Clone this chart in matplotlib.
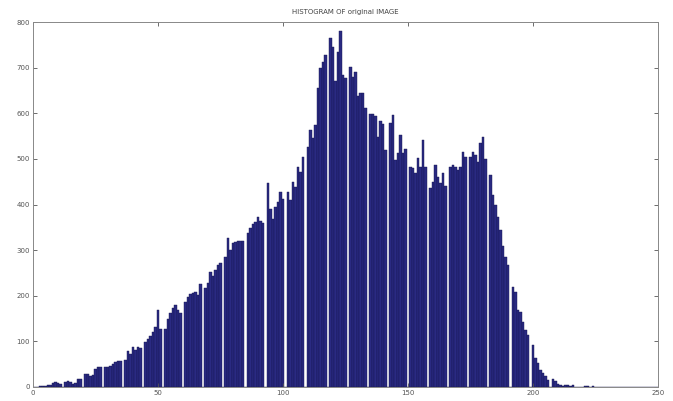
import matplotlib.pyplot as plt
import numpy as np

# histogram counts, one per grey level 0..255
counts_0_59 = [0, 0, 1, 2, 2, 3, 5, 4, 8, 10, 9, 6,
               0, 11, 12, 10, 7, 9, 17, 18,
               0, 29, 28, 25, 27, 39, 44, 43,
               0, 44, 44, 45, 50, 54, 56, 58,
               0, 59, 78, 72, 87, 80, 88, 86,
               0, 98, 106, 112, 121, 132, 169, 128,
               0, 127, 148, 162, 173, 180, 169, 162]
counts_60_119 = [0, 187, 198, 203, 205, 209, 202, 226,
                 0, 216, 227, 251, 243, 257, 268, 271,
                 0, 286, 326, 300, 315, 317, 319, 319, 320,
                 0, 337, 349, 357, 362, 373, 364, 359,
                 0, 448, 390, 368, 395, 406, 428, 412,
                 0, 428, 410, 450, 439, 483, 472, 505,
                 0, 527, 564, 545, 575, 655, 699, 713, 728,
                 0, 765]
counts_120_179 = [745, 670, 735, 780, 684, 677,
                  0, 702, 680, 691, 637, 645, 645, 611,
                  0, 598, 598, 593, 549, 582, 577, 520,
                  0, 578, 596, 498, 512, 553, 512, 522,
                  0, 483, 479, 468, 501, 483, 542, 483,
                  0, 436, 450, 487, 461, 447, 468, 441,
                  0, 483, 487, 483, 476, 483, 516, 505,
                  0, 505, 516, 509, 494, 534]
counts_180_255 = [549, 500,
                  0, 465, 421, 399, 373, 344, 308, 285, 267,
                  0, 220, 209, 169, 165, 143, 125, 114,
                  0, 92, 63, 52, 37, 30, 23, 15,
                  0, 17, 12, 7, 4, 2, 4, 4, 3, 4, 1,
                  0, 1, 0, 2, 2, 1, 2, 1, 0, 0, 1, 0, 0, 1,
                  0, 0, 0, 0, 0, 0, 0, 0, 0, 0, 0, 0,
                  0, 0, 0, 0, 0, 0, 0, 0, 0, 0, 0, 0]

counts = np.array(counts_0_59 + counts_60_119 + counts_120_179 + counts_180_255)
levels = np.arange(len(counts))

x_ticks = [0, 50, 100, 150, 200, 250]
y_ticks = [0, 100, 200, 300, 400, 500, 600, 700, 800]

fig = plt.figure(figsize=(6.73, 4.01), dpi=100)
ax = fig.add_axes([0.049, 0.035, 0.929, 0.91])

ax.bar(levels, counts, width=1.0, color='#2a2a82', edgecolor='#16164f', linewidth=0.3)

ax.set_xlim(0, 250)
ax.set_ylim(0, 800)
ax.set_xticks(x_ticks)
ax.set_yticks(y_ticks)
ax.tick_params(direction='in', length=3, width=0.6, colors='#555555', labelsize=5,
               top=True, right=True, pad=2)
for s in ax.spines.values():
    s.set_color('#888888')
    s.set_linewidth(0.7)

ax.set_title('HISTOGRAM OF original IMAGE', fontsize=5, color='#444444', pad=6)

fig.savefig('out.png', dpi=100)
